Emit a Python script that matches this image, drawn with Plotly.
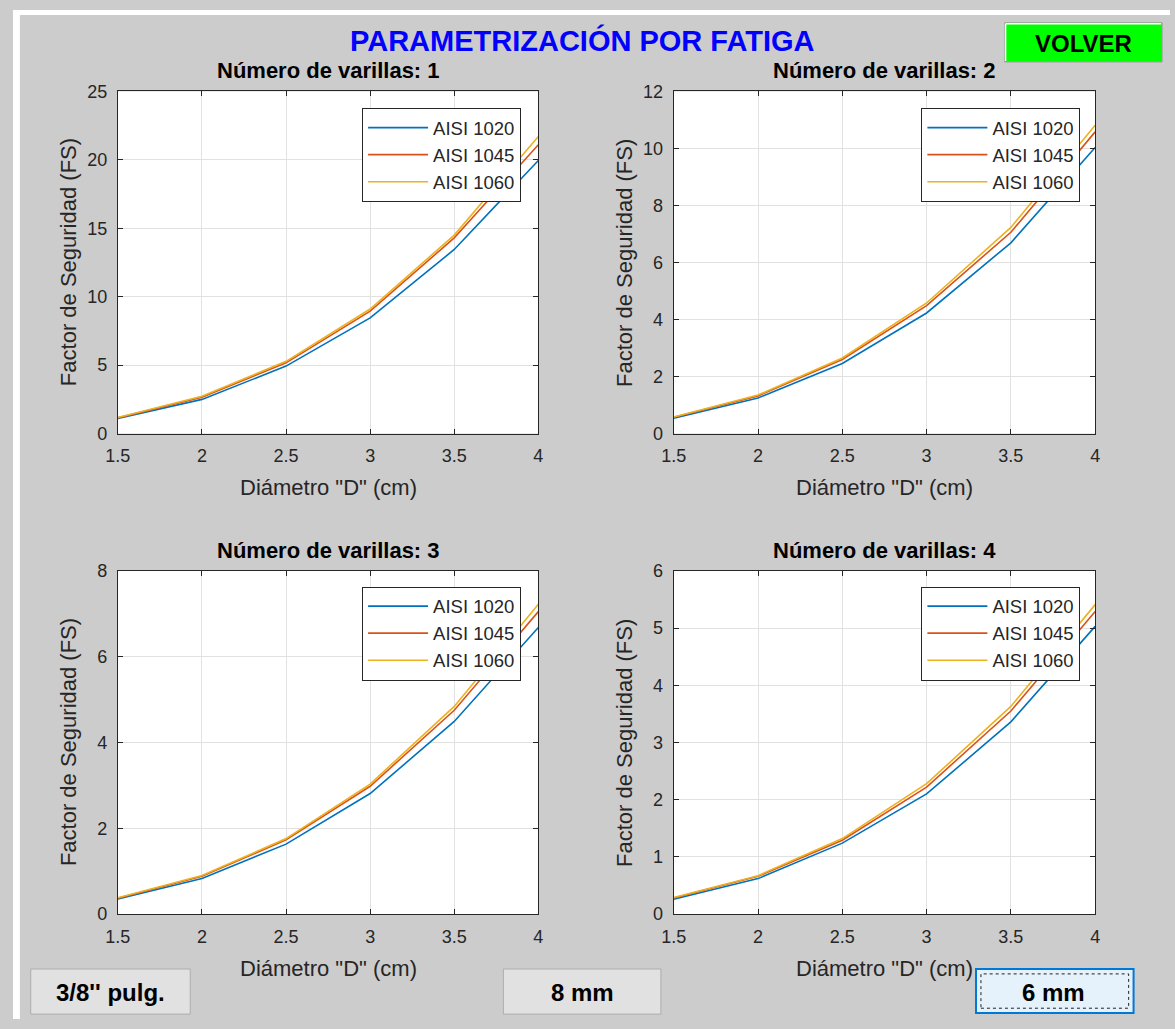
import plotly.graph_objects as go

W, H = 1175, 1029

# ---------------- data ----------------
diametro = [1.5, 2.0, 2.5, 3.0, 3.5, 4.0]
series_names = ["AISI 1020", "AISI 1045", "AISI 1060"]

fs_1v_1020 = [1.10, 2.50, 4.93, 8.45, 13.45, 19.95]
fs_1v_1045 = [1.15, 2.66, 5.17, 8.94, 14.30, 21.10]
fs_1v_1060 = [1.17, 2.73, 5.28, 9.10, 14.50, 21.70]

fs_2v_1020 = [0.54, 1.25, 2.46, 4.23, 6.69, 10.03]
fs_2v_1045 = [0.57, 1.32, 2.60, 4.49, 7.06, 10.58]
fs_2v_1060 = [0.58, 1.35, 2.65, 4.58, 7.23, 10.81]

fs_3v_1020 = [0.35, 0.83, 1.63, 2.81, 4.49, 6.68]
fs_3v_1045 = [0.37, 0.88, 1.73, 2.98, 4.75, 7.05]
fs_3v_1060 = [0.38, 0.90, 1.76, 3.03, 4.84, 7.22]

fs_4v_1020 = [0.26, 0.62, 1.24, 2.10, 3.36, 5.03]
fs_4v_1045 = [0.28, 0.66, 1.29, 2.22, 3.55, 5.29]
fs_4v_1060 = [0.29, 0.67, 1.32, 2.28, 3.63, 5.41]

subplot_titles = ["Número de varillas: 1", "Número de varillas: 2",
                  "Número de varillas: 3", "Número de varillas: 4"]
y_ranges = [[0, 25], [0, 12], [0, 8], [0, 6]]
y_dticks = [5, 2, 2, 1]
x_title = 'Diámetro "D" (cm)'
y_title = "Factor de Seguridad (FS)"
main_title = "PARAMETRIZACIÓN POR FATIGA"
button_labels = ["VOLVER", "3/8'' pulg.", "8 mm", "6 mm"]

colors = ["#0072BD", "#D95319", "#EDB120"]
FONT = "Liberation Sans, Arial, Helvetica, sans-serif"
TXT = "#262626"

all_series = [
    [fs_1v_1020, fs_1v_1045, fs_1v_1060],
    [fs_2v_1020, fs_2v_1045, fs_2v_1060],
    [fs_3v_1020, fs_3v_1045, fs_3v_1060],
    [fs_4v_1020, fs_4v_1045, fs_4v_1060],
]

def px(x):
    return x / W

def py(y):
    return 1 - y / H

# axis pixel boxes (left, right, top, bottom)
boxes = [
    (106.5, 533.5, 83, 432),
    (671, 1099, 83, 432),
    (106.5, 533.5, 572, 922),
    (671, 1099, 572, 922),
]

fig = go.Figure()
layout = dict(
    width=W, height=H,
    margin=dict(l=0, r=0, t=0, b=0),
    paper_bgcolor="#cccccc",
    plot_bgcolor="white",
    font=dict(family=FONT, color=TXT, size=18),
    showlegend=True,
)

annotations = []
shapes = []

for i, (series, box) in enumerate(zip(all_series, boxes)):
    n = "" if i == 0 else str(i + 1)
    leg = "legend" if i == 0 else "legend" + str(i + 1)
    for name, vals, c in zip(series_names, series, colors):
        fig.add_trace(go.Scatter(
            x=diametro, y=vals, mode="lines", name=name,
            line=dict(color=c, width=1.6),
            xaxis="x" + n, yaxis="y" + n, legend=leg,
        ))
    l, r, t, b = box
    common = dict(
        showline=True, linecolor=TXT, linewidth=1, mirror="ticks",
        ticks="inside", ticklen=5, tickcolor=TXT,
        showgrid=True, gridcolor="#e1e1e1", gridwidth=1,
        zeroline=False, tickfont=dict(size=18, color=TXT, family=FONT),
        fixedrange=True,
    )
    layout["xaxis" + n] = dict(
        domain=[px(l), px(r)], range=[1.5, 4], dtick=0.5, tick0=1.5,
        anchor="y" + n, ticklabelstandoff=6, **common)
    layout["yaxis" + n] = dict(
        domain=[py(b), py(t)], range=y_ranges[i], dtick=y_dticks[i],
        anchor="x" + n, ticklabelstandoff=6, **common)
    # legend
    leg_right = 516 if i % 2 == 0 else 1084
    leg_top = 100 if i < 2 else 588
    layout[leg] = dict(
        x=px(leg_right), xanchor="right", y=py(leg_top), yanchor="top",
        bgcolor="white", bordercolor=TXT, borderwidth=1,
        font=dict(size=18.5, color=TXT, family=FONT),
        tracegroupgap=0, itemwidth=60,
    )
    cx = (l + r) / 2
    # subplot title
    annotations.append(dict(
        text="<b>" + subplot_titles[i] + "</b>", x=px(cx), y=py(t - 21),
        xref="paper", yref="paper", showarrow=False,
        font=dict(size=22, color="black", family=FONT),
        xanchor="center", yanchor="middle"))
    # x title
    annotations.append(dict(
        text=x_title, x=px(cx), y=py(b + 55), xref="paper", yref="paper",
        showarrow=False, font=dict(size=22, color=TXT, family=FONT),
        xanchor="center", yanchor="middle"))
    # y title
    annotations.append(dict(
        text=y_title, x=px(l - 50), y=py((t + b) / 2), xref="paper",
        yref="paper", showarrow=False, textangle=-90,
        font=dict(size=22, color=TXT, family=FONT),
        xanchor="center", yanchor="middle"))

# main title
annotations.append(dict(
    text="<b>" + main_title + "</b>", x=px(578), y=py(31),
    xref="paper", yref="paper", showarrow=False,
    font=dict(size=29, color="#0000ff", family=FONT),
    xanchor="center", yanchor="middle"))

def rect(x0, y0, x1, y1, fill, line, lw=1, dash=None, layer="above"):
    d = dict(type="rect", xref="paper", yref="paper",
             x0=px(x0), x1=px(x1), y0=py(y1), y1=py(y0),
             fillcolor=fill, line=dict(color=line, width=lw), layer=layer)
    if dash:
        d["line"]["dash"] = dash
    return d

def seg(x0, y0, x1, y1, color, lw=1):
    return dict(type="line", xref="paper", yref="paper",
                x0=px(x0), x1=px(x1), y0=py(y0), y1=py(y1),
                line=dict(color=color, width=lw))

# white window border strips
shapes.append(rect(0, 0, W, 5, "white", "white", 0, layer="below"))
shapes.append(rect(0, 0, 7, H, "white", "white", 0, layer="below"))

# VOLVER button
shapes.append(rect(1007, 13, 1167, 53, "#00ff00", "#a0a0a0", 1))
shapes.append(seg(1008, 14, 1166, 14, "white", 1.5))
shapes.append(seg(1008, 14, 1008, 52, "white", 1.5))
# bottom buttons
shapes.append(rect(18, 978, 180, 1024, "#e1e1e1", "#adadad", 1))
shapes.append(rect(498, 978, 658, 1024, "#e1e1e1", "#adadad", 1))
shapes.append(rect(978, 978, 1138, 1023, "#e5f1fb", "#0078d7", 2))
shapes.append(rect(983, 983, 1133, 1018, "rgba(0,0,0,0)", "#222222", 1, dash="dot"))

btn_pos = [(1087, 34), (99, 1002), (578, 1002), (1057, 1002)]
for lab, (bx, by) in zip(button_labels, btn_pos):
    annotations.append(dict(
        text="<b>" + lab + "</b>", x=px(bx), y=py(by), xref="paper",
        yref="paper", showarrow=False,
        font=dict(size=24, color="black", family=FONT),
        xanchor="center", yanchor="middle"))

layout["annotations"] = annotations
layout["shapes"] = shapes
fig.update_layout(**layout)

fig.write_html("out.html")
